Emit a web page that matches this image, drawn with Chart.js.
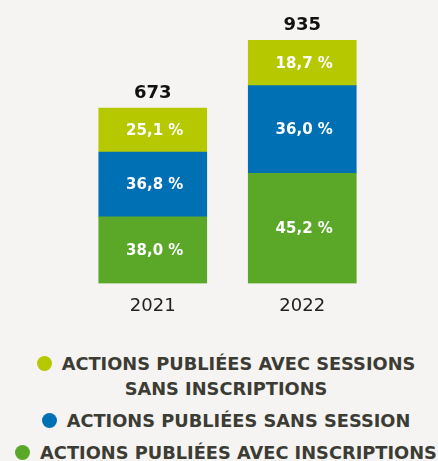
<!DOCTYPE html>
<html>
<head>
<title>Actions publiées</title>
<script src="https://cdn.jsdelivr.net/npm/chart.js"></script>
<style>
  body { margin: 0; background: #f5f4f2; width: 438px; height: 461px; overflow: hidden; position: relative; }
  #wrap { position: absolute; left: 0; top: 0; width: 438px; height: 330px; }
  #legend { position: absolute; left: 7px; top: 351px; width: 438px; text-align: center;
    font-family: "DejaVu Sans", sans-serif; font-weight: bold; font-size: 17.8px; color: #3c3c34; }
  #legend div { line-height: 25px; margin-bottom: 7px; white-space: pre-line; }
  #legend span.dot { display: inline-block; width: 15px; height: 15px; border-radius: 50%;
    margin-right: 10px; vertical-align: -1px; }
</style>
</head>
<body>
<div id="wrap"><canvas id="chart"></canvas></div>
<div id="legend"></div>

<script>
const years = ['2021', '2022'];
const totals = [673, 935];
// counts per segment (bottom to top)
const avecInscriptions = [256, 423];
const sansSession = [248, 337];
const sansInscriptions = [169, 175];
const pctAvecInscriptions = ['38,0 %', '45,2 %'];
const pctSansSession = ['36,8 %', '36,0 %'];
const pctSansInscriptions = ['25,1 %', '18,7 %'];

const green = '#5ba829';
const blue = '#0070b4';
const lime = '#b5c800';

const labelPlugin = {
  id: 'barLabels',
  afterDatasetsDraw(chart) {
    const ctx = chart.ctx;
    ctx.save();
    ctx.textAlign = 'center';
    ctx.textBaseline = 'middle';
    ctx.fillStyle = '#ffffff';
    ctx.font = 'bold 15px "DejaVu Sans"';
    chart.data.datasets.forEach((ds, i) => {
      const meta = chart.getDatasetMeta(i);
      meta.data.forEach((bar, j) => {
        const y = (bar.y + bar.base) / 2 + 1;
        ctx.fillText(ds.pct[j], bar.x + 2, y);
      });
    });
    const top = chart.getDatasetMeta(chart.data.datasets.length - 1);
    ctx.fillStyle = '#111111';
    ctx.font = 'bold 18px "DejaVu Sans"';
    top.data.forEach((bar, j) => {
      ctx.fillText(totals[j], bar.x, bar.y - 15);
    });
    ctx.restore();
  }
};

const chart = new Chart(document.getElementById('chart'), {
  type: 'bar',
  data: {
    labels: years,
    datasets: [
      { label: 'ACTIONS PUBLIÉES AVEC INSCRIPTIONS', data: avecInscriptions, pct: pctAvecInscriptions, backgroundColor: green },
      { label: 'ACTIONS PUBLIÉES SANS SESSION', data: sansSession, pct: pctSansSession, backgroundColor: blue },
      { label: 'ACTIONS PUBLIÉES AVEC SESSIONS\nSANS INSCRIPTIONS', data: sansInscriptions, pct: pctSansInscriptions, backgroundColor: lime }
    ]
  },
  options: {
    responsive: true,
    maintainAspectRatio: false,
    animation: false,
    layout: { padding: { top: 40, left: 78, right: 61, bottom: 9 } },
    datasets: { bar: { barThickness: 108, borderWidth: 0 } },
    plugins: { legend: { display: false }, tooltip: { enabled: false } },
    scales: {
      x: {
        stacked: true,
        grid: { display: false },
        border: { display: false },
        ticks: { padding: 4, color: '#222222', font: { family: 'DejaVu Sans', size: 18 } }
      },
      y: {
        stacked: true,
        display: false,
        min: 0,
        max: Math.max(...totals)
      }
    }
  },
  plugins: [labelPlugin]
});

const legend = document.getElementById('legend');
chart.data.datasets.slice().reverse().forEach(ds => {
  const row = document.createElement('div');
  const dot = document.createElement('span');
  dot.className = 'dot';
  dot.style.background = ds.backgroundColor;
  row.appendChild(dot);
  row.appendChild(document.createTextNode(ds.label));
  legend.appendChild(row);
});
</script>
</body>
</html>
